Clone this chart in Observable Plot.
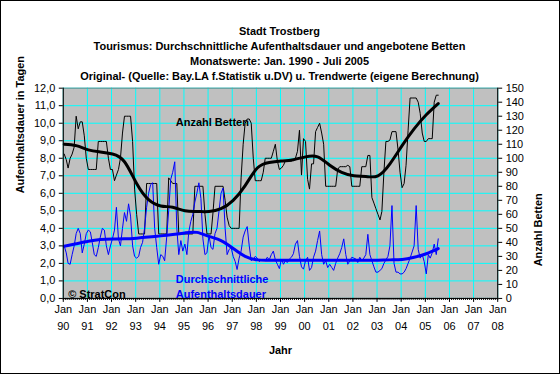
<!DOCTYPE html>
<html><head><meta charset="utf-8">
<script src="https://cdn.jsdelivr.net/npm/d3@7"></script>
<script src="https://cdn.jsdelivr.net/npm/@observablehq/plot@0.6"></script>
<style>
body{margin:0;background:#fff;}
#wrap{position:relative;width:560px;height:374px;box-sizing:border-box;border:1px solid #000;background:#fff;overflow:hidden;}
#wrap svg{position:absolute;left:-1px;top:-1px;}
</style></head>
<body><div id="wrap"></div>
<script>
// ---- data ----
const tickYears = ["90","91","92","93","94","95","96","97","98","99","00","01","02","03","04","05","06","07","08"];
const leftTicks = [0,1,2,3,4,5,6,7,8,9,10,11,12];
const rightTicks = [0,10,20,30,40,50,60,70,80,90,100,110,120,130,140,150];

// Anzahl Betten, monthly Jan 1990 - Jul 2005
const bettenValues = [
 103,99,93,100,103,108,130,121,126,126,116,100,
 92,92,92,92,92,112,112,112,112,112,100,92,
 92,84,88,92,100,118,130,130,130,130,112,78,
 60,46,46,46,46,82,82,82,82,82,82,46,
 46,46,46,46,86,84,82,82,82,46,46,46,
 46,46,46,46,46,80,80,80,80,80,60,46,
 46,46,61,80,80,80,80,80,70,58,52,50,
 50,50,50,50,86,110,125,128,128,125,100,84,
 84,84,84,90,100,100,100,100,105,110,98,92,
 93,95,98,98,98,98,99,100,105,120,88,114,
 112,85,78,96,96,119,122,125,118,110,80,80,
 80,80,80,80,92,94,94,94,94,95,94,80,
 80,80,80,80,94,94,94,102,102,72,68,64,
 60,56,62,90,112,112,113,119,119,119,106,90,
 79,82,95,120,143,143,143,143,140,132,118,112,
 112,114,114,114,140,145,145
];
// Durchschnittliche Aufenthaltsdauer (Tage), monthly Jan 1990 - Jul 2005
const dauerValues = [
 3.0,2.6,2.0,1.95,2.5,3.0,3.7,4.0,3.7,2.6,3.1,3.7,
 3.9,3.8,3.2,2.5,2.4,2.9,3.5,4.0,3.9,3.0,2.5,3.0,
 3.4,3.9,5.2,3.4,3.0,4.0,4.9,4.4,5.4,4.7,3.0,2.4,
 2.3,2.4,2.9,3.2,4.0,5.2,6.0,6.5,6.6,4.0,2.9,1.95,
 2.5,2.4,2.15,3.5,5.0,6.8,7.2,7.8,4.0,2.5,3.3,2.7,
 3.1,2.5,3.8,4.4,4.8,5.5,6.0,6.6,5.7,3.4,2.5,2.6,
 3.6,2.9,2.8,3.7,4.0,5.0,6.0,6.3,4.0,2.5,2.8,2.9,
 2.4,2.1,1.65,2.3,2.7,3.5,3.85,4.1,3.0,2.15,2.25,2.4,
 2.3,2.1,2.2,2.2,2.15,2.35,2.2,2.5,2.7,2.2,1.95,1.7,
 2.25,1.95,2.15,2.05,2.25,2.35,2.55,3.1,3.3,2.4,1.8,1.67,
 2.15,2.35,1.6,1.76,2.35,2.7,3.3,3.85,2.5,1.95,2.15,1.76,
 1.95,1.76,1.6,2.0,2.3,2.55,2.9,3.4,2.5,1.95,2.15,2.35,
 2.3,2.25,2.05,2.35,2.15,2.3,2.5,3.66,2.5,2.15,1.8,1.5,
 1.5,1.6,1.7,2.0,2.2,2.4,3.0,5.3,2.0,1.5,1.5,1.4,
 1.4,1.5,1.7,2.0,2.3,2.65,3.0,5.3,2.8,2.3,2.5,2.1,
 1.4,2.5,2.3,2.6,3.1,2.5,3.4
];
// Trend values read at these month offsets from Jan 1990
const trendMonths = [0,6,12,18,24,30,36,42,48,54,60,66,72,78,84,90,96,102,108,114,120,126,132,138,144,150,156,162,168,174,180,186];
const bettenTrend = [110,109,106,104.5,103,97.5,82,70.5,66,65,62.5,62,62,64,70,80.5,93,97,98,99,101,101,95,90,87.5,87,87.5,96,109,121,131,139];
const dauerTrend = [2.98,3.12,3.26,3.36,3.39,3.4,3.44,3.5,3.57,3.65,3.74,3.77,3.54,3.3,2.85,2.4,2.2,2.18,2.18,2.18,2.18,2.18,2.18,2.18,2.18,2.18,2.18,2.2,2.22,2.35,2.55,2.84];

// ---- helpers ----
const K = 12 / 150; // Betten -> left-axis units
const monthDate = i => new Date(Date.UTC(1990, i, 15));
const yearDates = tickYears.map((_, k) => new Date(Date.UTC(1990 + k, 0, 1)));
const allMonths = d3.utcMonths(new Date(Date.UTC(1990,0,1)), new Date(Date.UTC(2008,0,2)));
const x0 = yearDates[0], x1 = yearDates[yearDates.length - 1];
const font = "'Liberation Sans', Arial, sans-serif";
const blue = "#0000ff";

const chart = Plot.plot({
  width: 560, height: 374,
  marginTop: 88, marginBottom: 75, marginLeft: 63, marginRight: 61,
  x: {type: "utc", domain: [x0, x1]},
  y: {domain: [0, 12]},
  style: {fontFamily: font, fontSize: "11px", background: "transparent", color: "#000", overflow: "visible"},
  marks: [
    Plot.frame({fill: "#c0c0c0", stroke: null}),
    Plot.gridY(leftTicks, {stroke: "#00ffff", strokeOpacity: 1, strokeWidth: 1}),
    Plot.gridX(yearDates, {stroke: "#00ffff", strokeOpacity: 1, strokeWidth: 1}),
    Plot.frame({stroke: "#808080"}),
    // series
    Plot.line(bettenValues, {x: (d, i) => monthDate(i), y: d => d * K, stroke: "#000", strokeWidth: 1}),
    Plot.line(dauerValues, {x: (d, i) => monthDate(i), y: d => d, stroke: blue, strokeWidth: 1}),
    Plot.line(trendMonths, {x: m => monthDate(m), y: (m, k) => dauerTrend[k], stroke: blue, strokeWidth: 3, curve: "natural"}),
    Plot.line(trendMonths, {x: m => monthDate(m), y: (m, k) => bettenTrend[k] * K, stroke: "#000", strokeWidth: 3, curve: "natural"}),
    // axis lines
    Plot.ruleX([x0], {stroke: "#000"}),
    Plot.ruleX([x1], {stroke: "#000"}),
    Plot.ruleY([0], {stroke: "#000"}),
    // left axis
    Plot.axisY(leftTicks, {anchor: "left", tickSize: 4, tickPadding: 4, label: null, fontSize: 11,
      tickFormat: d => d.toFixed(1).replace(".", ",")}),
    // right axis (Anzahl Betten)
    Plot.axisY(rightTicks.map(b => b * K), {anchor: "right", tickSize: 4, tickPadding: 4, label: null, fontSize: 11,
      tickFormat: d => String(Math.round(d / K))}),
    // bottom axis: minor monthly ticks + yearly ticks
    Plot.axisX(allMonths, {tickSize: 2, tickFormat: () => "", label: null}),
    Plot.axisX(yearDates, {tickSize: 4, tickFormat: () => "", label: null}),
    Plot.text(yearDates, {x: d => d, text: () => "Jan", frameAnchor: "bottom", dy: 15, fontSize: 11}),
    Plot.text(yearDates, {x: d => d, text: (d, k) => tickYears[k], frameAnchor: "bottom", dy: 32, fontSize: 11}),
    // axis titles
    Plot.text(["Jahr"], {text: d => d, frameAnchor: "bottom", dy: 56, fontWeight: "bold", fontSize: 11}),
    Plot.text(["Aufenthaltsdauer in Tagen"], {text: d => d, frameAnchor: "left", dx: -43, rotate: -90, fontWeight: "bold", fontSize: 11}),
    Plot.text(["Anzahl Betten"], {text: d => d, frameAnchor: "right", dx: 41, rotate: -90, fontWeight: "bold", fontSize: 11}),
    // titles
    Plot.text(["Stadt Trostberg"], {text: d => d, frameAnchor: "top", dx: -1, dy: -61, fontWeight: "bold", fontSize: 11}),
    Plot.text(["Tourismus: Durchschnittliche Aufenthaltsdauer und angebotene Betten"], {text: d => d, frameAnchor: "top", dx: -1, dy: -46, fontWeight: "bold", fontSize: 11}),
    Plot.text(["Monatswerte: Jan. 1990 - Juli 2005"], {text: d => d, frameAnchor: "top", dx: -1, dy: -31, fontWeight: "bold", fontSize: 11}),
    Plot.text(["Original- (Quelle: Bay.LA f.Statistik u.DV) u. Trendwerte (eigene Berechnung)"], {text: d => d, frameAnchor: "top", dx: -1, dy: -16, fontWeight: "bold", fontSize: 11}),
    // annotations in plot
    Plot.text(["Anzahl Betten"], {text: d => d, frameAnchor: "top-left", textAnchor: "start", dx: 113, dy: 30, fontWeight: "bold", fontSize: 11, fill: "#000"}),
    Plot.text(["Durchschnittliche"], {text: d => d, frameAnchor: "top-left", textAnchor: "start", dx: 113, dy: 188, fontWeight: "bold", fontSize: 11, fill: blue}),
    Plot.text(["Aufenthaltsdauer"], {text: d => d, frameAnchor: "top-left", textAnchor: "start", dx: 113, dy: 203, fontWeight: "bold", fontSize: 11, fill: blue}),
    Plot.text(["© StratCon"], {text: d => d, frameAnchor: "top-left", textAnchor: "start", dx: 5, dy: 203, fontWeight: "bold", fontSize: 11, fill: "#000"})
  ]
});
document.getElementById("wrap").appendChild(chart);
</script>
</body></html>
